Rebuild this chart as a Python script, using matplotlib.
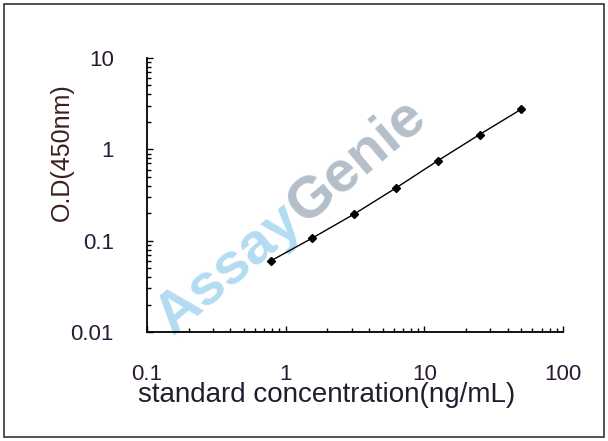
import matplotlib
matplotlib.use("Agg")
import matplotlib.pyplot as plt
from matplotlib.patches import Rectangle

plt.rcParams['font.family'] = ['Liberation Sans', 'DejaVu Sans']

# 标准曲线数据
concentration = [0.78, 1.56, 3.125, 6.25, 12.5, 25, 50]
od_450 = [0.060, 0.107, 0.196, 0.378, 0.75, 1.45, 2.75]

x_ticks = [0.1, 1, 10, 100]
x_tick_labels = ['0.1', '1', '10', '100']
y_ticks = [0.01, 0.1, 1, 10]
y_tick_labels = ['0.01', '0.1', '1', '10']

fig = plt.figure(figsize=(6.08, 4.41), dpi=100)
ax = fig.add_axes([147 / 608, 1 - 332 / 441, (563 - 147) / 608, (332 - 58) / 441])

# 水印（画在数据线下面）
wx, wy = 304 / 608, 1 - 225 / 441
ax.text(wx, wy, 'Assay', fontsize=42, fontweight='bold', color='#b3dcf3',
        rotation=40, rotation_mode='anchor', ha='right', va='baseline',
        transform=fig.transFigure, zorder=0, clip_on=False)
ax.text(wx, wy, 'Genie', fontsize=42, fontweight='bold', color='#b4bfca',
        rotation=40, rotation_mode='anchor', ha='left', va='baseline',
        transform=fig.transFigure, zorder=0, clip_on=False)

ax.plot(concentration, od_450, color='black', linewidth=1, zorder=3,
        marker='D', markersize=4.5, markerfacecolor='black', markeredgecolor='black')

ax.set_xscale('log')
ax.set_yscale('log')
ax.set_xlim(0.1, 100)
ax.set_ylim(0.01, 10)

ax.set_xticks(x_ticks)
ax.set_xticklabels(x_tick_labels)
ax.set_yticks(y_ticks)
ax.set_yticklabels(y_tick_labels)

ax.spines['top'].set_visible(False)
ax.spines['right'].set_visible(False)
for s in ['left', 'bottom']:
    ax.spines[s].set_linewidth(1.3)

ax.tick_params(which='major', direction='in', length=4, width=1, labelsize=16,
               labelcolor='#2a1a35')
ax.tick_params(which='minor', direction='in', length=3, width=1)
ax.tick_params(axis='x', which='major', pad=23)
ax.tick_params(axis='y', which='major', pad=24)

ax.set_xlabel('standard concentration(ng/mL)', fontsize=20, color='#1e1e2e')
ax.xaxis.set_label_coords((327 - 147) / 416, (332 - 382) / 274)
ax.set_ylabel('O.D(450nm)', fontsize=18, color='#3b1e1e')
ax.yaxis.set_label_coords((62 - 147) / 416, (332 - 152) / 274)
ax.yaxis.label.set_va('center')

# 外边框
fig.patches.append(Rectangle((4 / 608, 4 / 441), 600 / 608, 433 / 441,
                             transform=fig.transFigure, fill=False,
                             edgecolor='#333333', linewidth=1.2))

fig.savefig('out.png', dpi=100)
